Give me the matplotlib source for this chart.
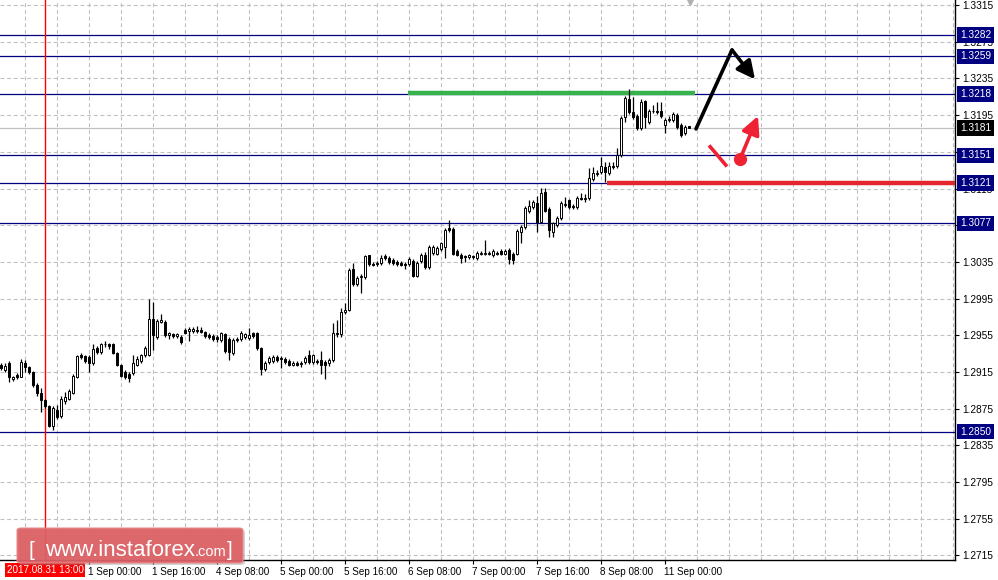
import matplotlib
matplotlib.use("Agg")
import matplotlib.pyplot as plt
import matplotlib.transforms as mtransforms
from matplotlib.patches import FancyBboxPatch
import numpy as np
import pandas as pd

# ---------------- data (GBPUSD H1, 31 Aug 02:00 .. 11 Sep 06:00) ----------------
opens = [1.2923, 1.2917, 1.2925, 1.2907, 1.2912, 1.2910, 1.2925, 1.2920, 1.2915, 1.2901,
         1.2892, 1.2884, 1.2878, 1.2856, 1.2874, 1.2867, 1.2883, 1.2885, 1.2892, 1.2910,
         1.2934, 1.2932, 1.2931, 1.2925, 1.2941, 1.2937, 1.2945, 1.2945, 1.2945, 1.2936,
         1.2923, 1.2915, 1.2913, 1.2914, 1.2923, 1.2927, 1.2933, 1.2934, 1.2973, 1.2953,
         1.2970, 1.2970, 1.2955, 1.2956, 1.2954, 1.2953, 1.2961, 1.2960, 1.2960, 1.2961,
         1.2961, 1.2959, 1.2955, 1.2954, 1.2953, 1.2950, 1.2956, 1.2951, 1.2936, 1.2950,
         1.2951, 1.2953, 1.2952, 1.2957, 1.2957, 1.2941, 1.2918, 1.2926, 1.2927, 1.2931,
         1.2930, 1.2929, 1.2927, 1.2923, 1.2925, 1.2924, 1.2926, 1.2934, 1.2926, 1.2927,
         1.2928, 1.2926, 1.2925, 1.2928, 1.2958, 1.2956, 1.2980, 1.2983, 1.3027, 1.3011,
         1.3019, 1.3018, 1.3042, 1.3033, 1.3033, 1.3034, 1.3041, 1.3039, 1.3037, 1.3035,
         1.3034, 1.3033, 1.3033, 1.3036, 1.3020, 1.3036, 1.3042, 1.3029, 1.3045, 1.3044,
         1.3049, 1.3051, 1.3072, 1.3071, 1.3047, 1.3043, 1.3041, 1.3040, 1.3041, 1.3039,
         1.3044, 1.3044, 1.3045, 1.3042, 1.3045, 1.3047, 1.3044, 1.3048, 1.3044, 1.3044,
         1.3068, 1.3073, 1.3090, 1.3095, 1.3099, 1.3079, 1.3111, 1.3093, 1.3068, 1.3075,
         1.3083, 1.3097, 1.3102, 1.3096, 1.3095, 1.3105, 1.3104, 1.3105, 1.3125, 1.3131,
         1.3133, 1.3138, 1.3132, 1.3139, 1.3139, 1.3151, 1.3193, 1.3213, 1.3198, 1.3194,
         1.3181, 1.3210, 1.3187, 1.3199, 1.3199, 1.3199, 1.3184, 1.3190, 1.3190, 1.3195,
         1.3184, 1.3175, 1.3183]
highs = [1.2925, 1.2925, 1.2927, 1.2911, 1.2914, 1.2929, 1.2928, 1.2922, 1.2916, 1.2903,
         1.2897, 1.2886, 1.2879, 1.2878, 1.2879, 1.2889, 1.2893, 1.2896, 1.2913, 1.2934,
         1.2936, 1.2934, 1.2933, 1.2945, 1.2943, 1.2947, 1.2949, 1.2947, 1.2947, 1.2937,
         1.2924, 1.2917, 1.2915, 1.2934, 1.2932, 1.2935, 1.2943, 1.2995, 1.2991, 1.2973,
         1.2978, 1.2972, 1.2959, 1.2958, 1.2958, 1.2955, 1.2963, 1.2964, 1.2964, 1.2965,
         1.2964, 1.2960, 1.2957, 1.2956, 1.2955, 1.2959, 1.2958, 1.2953, 1.2952, 1.2953,
         1.2960, 1.2958, 1.2963, 1.2959, 1.2959, 1.2942, 1.2927, 1.2932, 1.2933, 1.2933,
         1.2932, 1.2931, 1.2929, 1.2927, 1.2927, 1.2927, 1.2932, 1.2939, 1.2935, 1.2929,
         1.2938, 1.2928, 1.2930, 1.2968, 1.2972, 1.2985, 1.2990, 1.3028, 1.3034, 1.3020,
         1.3022, 1.3043, 1.3043, 1.3035, 1.3036, 1.3043, 1.3044, 1.3041, 1.3039, 1.3037,
         1.3036, 1.3035, 1.3040, 1.3038, 1.3036, 1.3045, 1.3046, 1.3053, 1.3053, 1.3052,
         1.3057, 1.3072, 1.3081, 1.3073, 1.3049, 1.3045, 1.3043, 1.3044, 1.3043, 1.3047,
         1.3047, 1.3059, 1.3047, 1.3049, 1.3047, 1.3049, 1.3049, 1.3050, 1.3046, 1.3071,
         1.3075, 1.3096, 1.3102, 1.3102, 1.3107, 1.3116, 1.3116, 1.3095, 1.3079, 1.3085,
         1.3101, 1.3106, 1.3104, 1.3098, 1.3107, 1.3110, 1.3109, 1.3137, 1.3138, 1.3135,
         1.3149, 1.3144, 1.3144, 1.3144, 1.3159, 1.3194, 1.3216, 1.3223, 1.3215, 1.3196,
         1.3213, 1.3212, 1.3202, 1.3206, 1.3209, 1.3209, 1.3192, 1.3194, 1.3198, 1.3197,
         1.3186, 1.3184, 1.3183]
lows = [1.2917, 1.2915, 1.2904, 1.2905, 1.2907, 1.2909, 1.2915, 1.2913, 1.2899, 1.2889,
        1.2871, 1.2876, 1.2855, 1.2852, 1.2864, 1.2865, 1.2880, 1.2884, 1.2891, 1.2908,
        1.2929, 1.2925, 1.2915, 1.2923, 1.2935, 1.2935, 1.2942, 1.2940, 1.2935, 1.2921,
        1.2909, 1.2907, 1.2904, 1.2912, 1.2921, 1.2925, 1.2931, 1.2932, 1.2939, 1.2951,
        1.2968, 1.2953, 1.2951, 1.2952, 1.2952, 1.2946, 1.2956, 1.2949, 1.2958, 1.2958,
        1.2957, 1.2952, 1.2951, 1.2949, 1.2948, 1.2948, 1.2936, 1.2928, 1.2934, 1.2948,
        1.2949, 1.2951, 1.2950, 1.2952, 1.2939, 1.2912, 1.2916, 1.2924, 1.2925, 1.2926,
        1.2919, 1.2924, 1.2921, 1.2921, 1.2921, 1.2920, 1.2924, 1.2924, 1.2924, 1.2924,
        1.2913, 1.2907, 1.2921, 1.2926, 1.2953, 1.2953, 1.2978, 1.2981, 1.3009, 1.3009,
        1.3001, 1.3016, 1.3031, 1.3030, 1.3031, 1.3032, 1.3037, 1.3033, 1.3032, 1.3031,
        1.3030, 1.3027, 1.3031, 1.3018, 1.3018, 1.3034, 1.3027, 1.3027, 1.3043, 1.3042,
        1.3047, 1.3039, 1.3068, 1.3042, 1.3041, 1.3034, 1.3035, 1.3038, 1.3038, 1.3037,
        1.3042, 1.3042, 1.3042, 1.3040, 1.3042, 1.3042, 1.3042, 1.3033, 1.3033, 1.3042,
        1.3056, 1.3071, 1.3088, 1.3093, 1.3068, 1.3077, 1.3089, 1.3062, 1.3062, 1.3073,
        1.3081, 1.3095, 1.3093, 1.3093, 1.3093, 1.3102, 1.3100, 1.3103, 1.3123, 1.3129,
        1.3131, 1.3122, 1.3130, 1.3136, 1.3137, 1.3149, 1.3187, 1.3196, 1.3191, 1.3179,
        1.3179, 1.3181, 1.3185, 1.3197, 1.3196, 1.3192, 1.3175, 1.3188, 1.3188, 1.3180,
        1.3171, 1.3173, 1.3181]
closes = [1.2919, 1.2922, 1.2909, 1.2910, 1.2909, 1.2926, 1.2920, 1.2915, 1.2901, 1.2892,
          1.2884, 1.2878, 1.2856, 1.2876, 1.2866, 1.2886, 1.2888, 1.2894, 1.2911, 1.2932,
          1.2931, 1.2927, 1.2925, 1.2940, 1.2937, 1.2945, 1.2946, 1.2943, 1.2936, 1.2923,
          1.2911, 1.2909, 1.2908, 1.2925, 1.2929, 1.2933, 1.2941, 1.2973, 1.2955, 1.2971,
          1.2972, 1.2955, 1.2957, 1.2954, 1.2956, 1.2948, 1.2958, 1.2962, 1.2962, 1.2960,
          1.2959, 1.2954, 1.2953, 1.2951, 1.2951, 1.2957, 1.2938, 1.2937, 1.2950, 1.2951,
          1.2957, 1.2956, 1.2955, 1.2954, 1.2941, 1.2918, 1.2925, 1.2930, 1.2931, 1.2928,
          1.2929, 1.2926, 1.2923, 1.2925, 1.2923, 1.2925, 1.2930, 1.2926, 1.2933, 1.2926,
          1.2923, 1.2923, 1.2928, 1.2957, 1.2956, 1.2980, 1.2983, 1.3026, 1.3011, 1.3017,
          1.3020, 1.3041, 1.3033, 1.3032, 1.3034, 1.3039, 1.3039, 1.3035, 1.3034, 1.3033,
          1.3032, 1.3032, 1.3038, 1.3020, 1.3034, 1.3042, 1.3029, 1.3051, 1.3051, 1.3050,
          1.3056, 1.3070, 1.3070, 1.3044, 1.3043, 1.3039, 1.3040, 1.3042, 1.3040, 1.3045,
          1.3045, 1.3045, 1.3044, 1.3047, 1.3044, 1.3044, 1.3047, 1.3038, 1.3037, 1.3069,
          1.3073, 1.3094, 1.3096, 1.3100, 1.3079, 1.3110, 1.3091, 1.3070, 1.3077, 1.3083,
          1.3099, 1.3098, 1.3095, 1.3095, 1.3105, 1.3104, 1.3105, 1.3126, 1.3132, 1.3132,
          1.3139, 1.3133, 1.3139, 1.3138, 1.3151, 1.3192, 1.3214, 1.3198, 1.3193, 1.3181,
          1.3209, 1.3193, 1.3200, 1.3200, 1.3198, 1.3194, 1.3190, 1.3191, 1.3196, 1.3182,
          1.3173, 1.3182, 1.3181]

first_bar = "2017-08-31 02:00"
last_bar = "2017-09-11 06:00"

level_prices = [1.3282, 1.3259, 1.3218, 1.3151, 1.3121, 1.3077, 1.2850]
current_price = 1.3181

resistance_price = 1.3219
resistance_span = [101.75, 173.5]
support_price = 1.3121
support_start = 151.5

marker_time = "2017-08-31 13:00"
marker_label = "2017.08.31 13:00"

time_labels = ["1 Sep 00:00", "1 Sep 16:00", "4 Sep 08:00", "5 Sep 00:00", "5 Sep 16:00",
               "6 Sep 08:00", "7 Sep 00:00", "7 Sep 16:00", "8 Sep 08:00", "11 Sep 00:00"]
time_ticks = ["2017-09-01 00:00", "2017-09-01 16:00", "2017-09-04 08:00", "2017-09-05 00:00",
              "2017-09-05 16:00", "2017-09-06 08:00", "2017-09-07 00:00", "2017-09-07 16:00",
              "2017-09-08 08:00", "2017-09-11 00:00"]

price_ticks = [1.2715, 1.2755, 1.2795, 1.2835, 1.2875, 1.2915, 1.2955, 1.2995, 1.3035,
               1.3075, 1.3115, 1.3155, 1.3195, 1.3235, 1.3275, 1.3315]

# forecast drawings (bar index, price)
bull_path_x = [173.75, 182.75, 188.5]
bull_path_y = [1.3180, 1.3266, 1.3234]
alt_dash_x = [177.0, 181.5]
alt_dash_y = [1.3162, 1.3139]
alt_arrow_x = [184.75, 189.25]
alt_arrow_y = [1.3147, 1.3194]

# ---------------- figure ----------------
W, H = 998, 580
fig = plt.figure(figsize=(W / 100, H / 100), dpi=100)
fig.patch.set_facecolor("white")
ax = fig.add_axes([0, 1 - 560 / H, 955 / W, 560 / H])
ax.set_facecolor("white")

times = pd.date_range(first_bar, last_bar, freq="h")
times = times[times.dayofweek < 5]
n = len(opens)
idx = np.arange(n)

ax.set_xlim(-0.25, 238.5)
ax.set_ylim(1.27100, 1.33205)

lab_font = ["Liberation Sans", "DejaVu Sans"]

# grid
grid_kw = dict(color="#c0c0c0", lw=0.8, linestyle=(0, (3.5, 2.5)), zorder=0)
for p in price_ticks:
    ax.axhline(p, **grid_kw)
for k in np.arange(6, 240, 8):
    ax.axvline(k, **grid_kw)

# horizontal levels
for p in level_prices:
    ax.axhline(p, color="#000080", lw=0.9, zorder=1)
ax.axhline(current_price, color="#c0c0c0", lw=0.9, zorder=1)

# resistance / support
ax.plot(resistance_span, [resistance_price] * 2, color="#37b24d", lw=3.2,
        solid_capstyle="butt", zorder=3)
ax.plot([support_start, 238.5], [support_price] * 2, color="#e3262e", lw=3.2,
        solid_capstyle="butt", zorder=3)

# red vertical marker
mk = times.get_loc(pd.Timestamp(marker_time))
ax.axvline(mk, color="#ff0000", lw=1.0, zorder=2)

# candles
o = np.array(opens); h = np.array(highs); l = np.array(lows); c = np.array(closes)
ax.vlines(idx, l, h, color="black", lw=0.9, zorder=4)
bottoms = np.minimum(o, c)
heights = np.maximum(np.abs(c - o), 0.00007)
faces = ["white" if cc >= oo else "black" for oo, cc in zip(o, c)]
ax.bar(idx, heights, bottom=bottoms, width=0.72, color=faces, edgecolor="black",
       linewidth=0.7, zorder=5)

# forecast drawings
ax.plot(bull_path_x[:2], bull_path_y[:2], color="black", lw=2.6, zorder=6,
        solid_capstyle="round")
ax.annotate("", xy=(bull_path_x[2], bull_path_y[2]), xytext=(bull_path_x[1], bull_path_y[1]),
            arrowprops=dict(arrowstyle="-|>,head_length=0.9,head_width=0.45", lw=2.6,
                            color="black", shrinkA=0, shrinkB=0, mutation_scale=12),
            zorder=6)
ax.plot(alt_dash_x, alt_dash_y, color="#ee2233", lw=2.6, zorder=6, solid_capstyle="butt")
ax.plot(alt_arrow_x[0], alt_arrow_y[0], "o", color="#ee2233", ms=8.5, zorder=6)
ax.annotate("", xy=(alt_arrow_x[1], alt_arrow_y[1]), xytext=(alt_arrow_x[0], alt_arrow_y[0]),
            arrowprops=dict(arrowstyle="-|>,head_length=0.9,head_width=0.45", lw=2.6,
                            color="#ee2233", shrinkA=0, shrinkB=0, mutation_scale=12),
            zorder=6)

# chart-shift marker
ax.plot([0.7225], [1.0], transform=ax.transAxes, marker="v", color="#b0b0b0", ms=7,
        clip_on=False, zorder=7)

# spines
for s in ["top", "left"]:
    ax.spines[s].set_visible(False)
for s in ["right", "bottom"]:
    ax.spines[s].set_color("black")
    ax.spines[s].set_linewidth(1.0)

# y axis on the right
ax.yaxis.tick_right()
ax.set_yticks(price_ticks)
ax.set_yticklabels([f"{p:.4f}" for p in price_ticks], fontsize=7.3, family=lab_font)
ax.tick_params(axis="y", length=3, width=0.8, pad=2, color="black")

# x axis
tick_pos = [times.get_loc(pd.Timestamp(t)) for t in time_ticks]
ax.set_xticks(tick_pos)
ax.set_xticklabels(time_labels, fontsize=7.1, family=lab_font, ha="left")
ax.tick_params(axis="x", length=3, width=0.8, pad=2, color="black")
for lbl in ax.get_xticklabels():
    lbl.set_transform(lbl.get_transform() + mtransforms.ScaledTranslation(-1 / 100, 0, fig.dpi_scale_trans))

# price level boxes
ytrans = mtransforms.blended_transform_factory(ax.transAxes, ax.transData)
for p in level_prices:
    ax.text(1.0 + 5 / 955, p, f"{p:.4f}", transform=ytrans, ha="left", va="center",
            fontsize=7.3, family=lab_font, color="white", clip_on=False, zorder=10,
            bbox=dict(boxstyle="square,pad=0.28", fc="#000080", ec="none"))
ax.text(1.0 + 5 / 955, current_price, f"{current_price:.4f}", transform=ytrans, ha="left",
        va="center", fontsize=7.3, family=lab_font, color="white", clip_on=False, zorder=10,
        bbox=dict(boxstyle="square,pad=0.28", fc="black", ec="none"))

# red time label
xtrans = mtransforms.blended_transform_factory(ax.transData, fig.transFigure)
ax.text(mk, 1 - 570 / H, marker_label, transform=xtrans, ha="center", va="center",
        fontsize=7.1, family=lab_font, color="white", clip_on=False, zorder=11,
        bbox=dict(boxstyle="square,pad=0.2", fc="#ff0000", ec="none"))

# watermark
shadow = FancyBboxPatch((19 / W, 1 - 565 / H), 226 / W, 35 / H, transform=fig.transFigure,
                        boxstyle="round,pad=0,rounding_size=0.004", fc="#808080", ec="none",
                        alpha=0.35, zorder=20)
fig.patches.append(shadow)
wm = FancyBboxPatch((17 / W, 1 - 563 / H), 226 / W, 35 / H, transform=fig.transFigure,
                    boxstyle="round,pad=0,rounding_size=0.004", fc="#de5f64", ec="#e88a8d",
                    lw=0.8, alpha=0.92, zorder=21)
fig.patches.append(wm)
wm_font = ["Liberation Sans", "DejaVu Sans"]
fig.text(28 / W, 1 - 556 / H, "[", fontsize=15, family=wm_font, color="white", ha="left",
         va="baseline", zorder=22)
main_txt = fig.text(45 / W, 1 - 556 / H, "www.instaforex", fontsize=16, family=wm_font,
                    color="white", ha="left", va="baseline", zorder=22)
fig.canvas.draw()
bb = main_txt.get_window_extent()
fig.text(bb.x1 / W, 1 - 556 / H, ".com", fontsize=10.5, family=wm_font, color="white",
         ha="left", va="baseline", zorder=22)
fig.text(227 / W, 1 - 556 / H, "]", fontsize=15, family=wm_font, color="white", ha="left",
         va="baseline", zorder=22)

fig.savefig("out.png", dpi=100, facecolor="white")
